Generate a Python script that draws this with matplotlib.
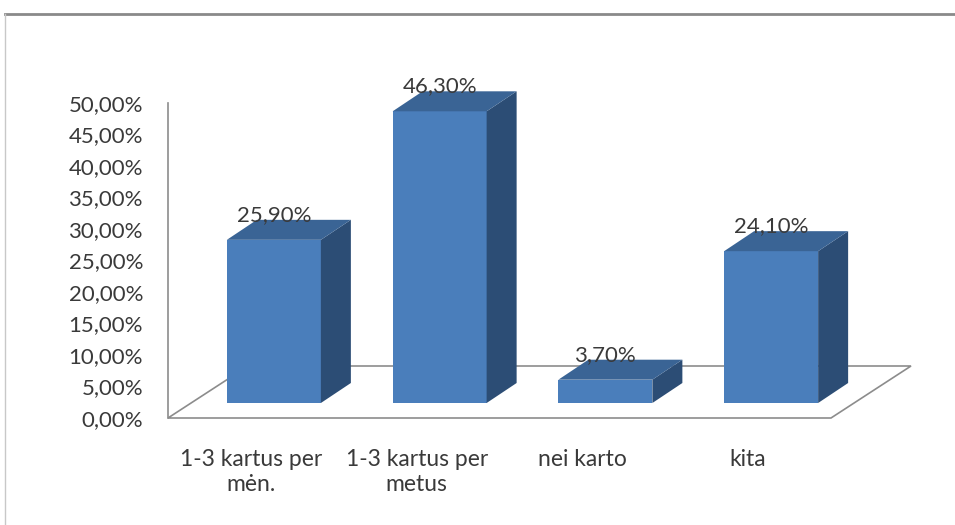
import matplotlib
matplotlib.use('Agg')
import matplotlib.pyplot as plt
from matplotlib.patches import Polygon, Rectangle
from matplotlib.lines import Line2D

categories = ['1-3 kartus per\nmėn.', '1-3 kartus per\nmetus', 'nei karto', 'kita']
values = [25.9, 46.3, 3.7, 24.1]          # percent
yticks = [0, 5, 10, 15, 20, 25, 30, 35, 40, 45, 50]

FRONT = '#4a7ebb'
SIDE = '#2c4d75'
TOP = '#3a6495'
TXT = '#3a3a3a'
GRID = '#8c8c8c'

plt.rcParams['font.family'] = ['Lato', 'DejaVu Sans']

fig = plt.figure(figsize=(9.55, 5.25), dpi=100)
ax = fig.add_axes([168 / 955, 107 / 525, 663 / 955, 315 / 525])
ax.set_xlim(-0.5, len(categories) - 0.5)
ax.set_ylim(0, 50)
for s in ax.spines.values():
    s.set_visible(False)
ax.patch.set_alpha(0)

# pixel -> data scale for the fake 3D depth
p0 = ax.transData.transform((0, 0))
p1 = ax.transData.transform((1, 1))
sx, sy = p1[0] - p0[0], p1[1] - p0[1]


def off(px, py):
    return px / sx, py / sy


floor_dx, floor_dy = off(80, 52)
front_dx, front_dy = off(23, 15)
back_dx, back_dy = off(53, 35)
bar_w = 94 / sx

# floor outline + left axis line
x0, x1 = -0.5, len(categories) - 0.5
ax.add_patch(Polygon([(x0, 0), (x1, 0), (x1 + floor_dx, floor_dy), (x0 + floor_dx, floor_dy)],
                     closed=True, facecolor='white', edgecolor=GRID, lw=1.2,
                     clip_on=False, zorder=1))
ax.plot([x0, x0], [0, 50], color=GRID, lw=1.2, clip_on=False, zorder=1)

for i, v in enumerate(values):
    l = i - bar_w / 2 + front_dx
    r = i + bar_w / 2 + front_dx
    b = front_dy
    t = v + front_dy
    ddx, ddy = back_dx - front_dx, back_dy - front_dy
    ax.add_patch(Rectangle((l, b), r - l, t - b, facecolor=FRONT, edgecolor='none',
                           clip_on=False, zorder=3))
    ax.add_patch(Polygon([(r, b), (r, t), (r + ddx, t + ddy), (r + ddx, b + ddy)],
                         closed=True, facecolor=SIDE, edgecolor='none', clip_on=False, zorder=3))
    ax.add_patch(Polygon([(l, t), (r, t), (r + ddx, t + ddy), (l + ddx, t + ddy)],
                         closed=True, facecolor=TOP, edgecolor='none', clip_on=False, zorder=3))
    ax.text(i + front_dx, t + 25 / sy, f'{v:.2f}%'.replace('.', ','), ha='center', va='center',
            fontsize=16, color=TXT, zorder=4)

ax.set_yticks(yticks)
ax.set_yticklabels([f'{t:.2f}%'.replace('.', ',') for t in yticks])
ax.set_xticks(range(len(categories)))
ax.set_xticklabels(categories)
ax.tick_params(axis='y', length=0, pad=18, labelsize=16, labelcolor=TXT)
ax.tick_params(axis='x', length=0, pad=22, labelsize=16.5, labelcolor=TXT)
for lab in ax.get_xticklabels():
    lab.set_linespacing(1.25)

# chart frame
fig.add_artist(Line2D([5 / 955, 1], [1 - 14 / 525, 1 - 14 / 525], color='#8a8a8a', lw=2))
fig.add_artist(Line2D([5 / 955, 5 / 955], [0, 1 - 14 / 525], color='#c8c8c8', lw=1))

fig.savefig('out.png', dpi=100)
